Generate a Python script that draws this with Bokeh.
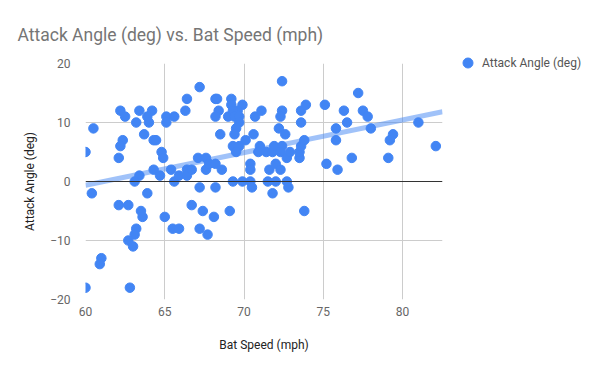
import numpy as np
from bokeh.plotting import figure
from bokeh.models import Range1d, Legend, LegendItem, FixedTicker, Span
from bokeh.embed import file_html
from bokeh.resources import INLINE

bat_speed = [
    60.0, 60.5, 60.4, 60.0, 61.0, 60.9, 62.2, 62.5, 62.35, 62.2, 62.1, 62.1, 62.7, 62.8,
    63.4, 63.2, 63.7, 64.2, 63.9, 64.0, 64.3, 64.45, 64.8, 64.9, 64.3, 64.7, 63.4, 63.1,
    63.9, 63.5, 63.6, 63.2, 63.1, 62.7, 63.0, 65.0, 65.1, 65.1, 65.6, 66.4, 66.3, 67.2,
    65.4, 65.6, 65.9, 66.4, 66.4, 66.7, 67.1, 67.6, 67.6, 67.2, 66.7, 67.4, 68.1, 65.5,
    65.9, 67.2, 67.7,
    68.2, 68.3, 69.2, 69.2, 69.9, 69.6, 68.4, 68.2, 69.0, 69.3, 69.4, 69.7, 69.7, 69.5,
    69.4, 68.5, 70.1, 70.6, 70.7, 71.1, 72.4, 72.4, 72.3, 72.2, 72.6, 73.6, 73.9, 73.6,
    75.1, 75.2, 69.3, 69.7, 69.5, 71.0, 70.9, 71.4, 71.8, 71.9, 72.4, 72.3, 72.7, 72.9,
    73.5, 73.5, 73.6, 73.8, 67.8, 68.2, 68.6, 68.2, 69.1, 70.4, 70.4, 71.6, 72.0, 72.3,
    69.3, 69.9, 70.4, 70.5, 71.5, 72.0, 71.8, 72.7, 72.8, 73.8,
    77.2, 76.3, 77.5, 77.8, 76.5, 75.8, 78.0, 75.8, 76.8, 75.9, 79.4, 79.2, 79.1, 81.0, 82.1,
]
attack_angle = [
    5, 9, -2, -18, -13, -14, 12, 11, 7, 6, 4, -4, -4, -18,
    12, 10, 8, 12, 11, 10, 7, 7, 5, 4, 2, 1, 1, 0,
    -2, -5, -6, -8, -9, -10, -11, -6, 11, 10, 11, 14, 12, 16,
    2, 0, 1, 2, 1, 2, 4, 4, 2, -1, -4, -5, -6, -8,
    -8, -8, -9,
    14, 14, 14, 13, 13, 12, 12, 11, 11, 12, 11, 11, 10, 9,
    8, 8, 7, 8, 11, 12, 17, 12, 11, 9, 8, 12, 13, 10,
    13, 3, 6, 6, 5, 6, 5, 5, 5, 6, 6, 5, 4, 5,
    4, 5, 6, 7, 3, 3, 2, -1, -5, 3, 2, 2, 3, 2,
    0, 0, 0, -1, 0, 0, -2, 0, -1, -5,
    15, 12, 12, 11, 10, 9, 9, 7, 4, 2, 8, 7, 4, 10, 6,
]
x_ticks = [60, 65, 70, 75, 80]
y_ticks = [-20, -10, 0, 10, 20]

BLUE = "#4285F4"
FONT = "Roboto"

p = figure(frame_width=357, frame_height=236, output_backend="svg", toolbar_location=None,
           x_range=Range1d(60, 82.52), y_range=Range1d(-20, 20),
           min_border_left=85, min_border_right=130, min_border_top=63, min_border_bottom=56)
p.outline_line_color = None

p.title.text = "Attack Angle (deg) vs. Bat Speed (mph)"
p.title.text_font = FONT
p.title.text_font_size = "17.5px"
p.title.text_font_style = "normal"
p.title.text_color = "#757575"
p.title.align = "left"
p.title.offset = -68
p.title.standoff = 38

for ax in (p.xaxis[0], p.yaxis[0]):
    ax.axis_line_color = None
    ax.major_tick_line_color = None
    ax.minor_tick_line_color = None
    ax.major_label_text_font = FONT
    ax.major_label_text_font_size = "12px"
    ax.major_label_text_color = "#666666"
    ax.axis_label_text_font = FONT
    ax.axis_label_text_font_size = "12px"
    ax.axis_label_text_font_style = "normal"
    ax.axis_label_text_color = "#222222"

p.xaxis.ticker = FixedTicker(ticks=x_ticks)
p.yaxis.ticker = FixedTicker(ticks=y_ticks)
p.xaxis.axis_label = "Bat Speed (mph)"
p.yaxis.axis_label = "Attack Angle (deg)"
p.xaxis.major_label_standoff = 1
p.xaxis.axis_label_standoff = 19
p.yaxis.major_label_standoff = 9
p.yaxis.axis_label_standoff = 10

p.xgrid.ticker = FixedTicker(ticks=x_ticks)
p.ygrid.ticker = FixedTicker(ticks=[-20, -10, 10, 20])
p.xgrid.grid_line_color = "#cccccc"
p.ygrid.grid_line_color = "#cccccc"
p.add_layout(Span(location=0, dimension="width", line_color="#333333", line_width=1))

# trendline (least squares)
slope, intercept = np.polyfit(bat_speed, attack_angle, 1)
tx = [p.x_range.start, p.x_range.end]
ty = [slope * v + intercept for v in tx]
p.line(tx, ty, line_color=BLUE, line_alpha=0.5, line_width=5)

pts = p.scatter(bat_speed, attack_angle, size=9.5, fill_color=BLUE, line_color=BLUE)

legend = Legend(items=[LegendItem(label="Attack Angle (deg)", renderers=[pts])],
                location=(13, 224), padding=0, margin=0, spacing=0,
                glyph_width=25, glyph_height=25, label_height=25, label_standoff=2,
                label_text_font=FONT, label_text_font_size="12px", label_text_color="#555555",
                border_line_color=None, background_fill_alpha=0)
p.add_layout(legend, "right")

open("out.html", "w").write(file_html(p, INLINE))
